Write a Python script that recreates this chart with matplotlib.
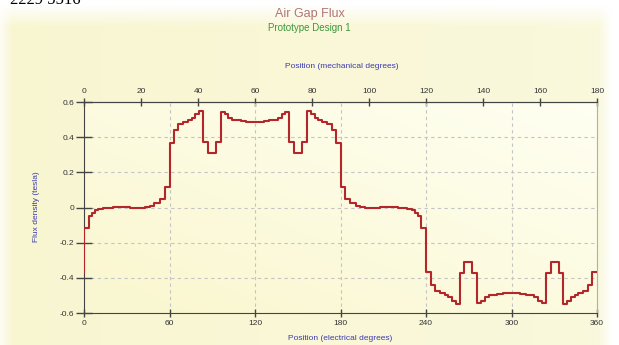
import numpy as np
import matplotlib
matplotlib.use("Agg")
import matplotlib.pyplot as plt

plt.rcParams['font.family'] = ['Liberation Sans', 'DejaVu Sans']

# step edges (electrical degrees) and flux density (tesla) held between them
edges = [0, 3.3, 5.8, 7.7, 10, 13, 16, 20, 24, 28, 32, 36, 40, 43, 46, 49, 53.5, 57,
         60, 63.4, 66.2, 69.7, 73.2, 75.6, 77.9, 80.9, 83.7, 86.8, 92.6, 95.9, 98.9,
         101.3, 104, 107, 110, 114, 117, 123, 126, 130, 133, 136, 138.7, 141.1, 144.1,
         147.4, 153.2, 156.3, 159.1, 162.1, 164.4, 166.8, 170.3, 173.8, 176.6,
         180, 183, 186.5, 191, 194, 197, 200, 204, 208, 212, 216, 220, 224, 227, 230,
         232.3, 234.2, 236.7,
         240, 243.4, 246.2, 249.7, 253.2, 255.6, 257.9, 260.9, 263.7, 266.8, 272.6,
         275.9, 278.9, 281.3, 284, 287, 290, 294, 297, 303, 306, 310, 313, 316, 318.7,
         321.1, 324.1, 327.4, 333.2, 336.3, 339.1, 342.1, 344.4, 346.8, 350.3, 353.8,
         356.6, 360]
flux = [-0.115, -0.05, -0.03, -0.015, -0.008, -0.003, 0.0, 0.003, 0.004, 0.002, -0.002,
        -0.004, -0.002, 0.002, 0.008, 0.023, 0.05, 0.114,
        0.366, 0.44, 0.475, 0.485, 0.5, 0.51, 0.53, 0.547, 0.37, 0.31, 0.37, 0.545, 0.53,
        0.51, 0.5, 0.495, 0.49, 0.487, 0.485, 0.487, 0.49, 0.495, 0.5, 0.51, 0.53, 0.545,
        0.37, 0.31, 0.37, 0.547, 0.53, 0.51, 0.5, 0.485, 0.475, 0.44, 0.366,
        0.114, 0.05, 0.023, 0.008, 0.002, -0.002, -0.004, -0.002, 0.002, 0.004, 0.003,
        0.0, -0.003, -0.008, -0.015, -0.03, -0.05, -0.115,
        -0.366, -0.44, -0.475, -0.485, -0.5, -0.51, -0.53, -0.547, -0.37, -0.31, -0.37,
        -0.545, -0.53, -0.51, -0.5, -0.495, -0.49, -0.487, -0.485, -0.487, -0.49, -0.495,
        -0.5, -0.51, -0.53, -0.545, -0.37, -0.31, -0.37, -0.547, -0.53, -0.51, -0.5,
        -0.485, -0.475, -0.44, -0.366]

elec_ticks = [0, 60, 120, 180, 240, 300, 360]
mech_ticks = [0, 20, 40, 60, 80, 100, 120, 140, 160, 180]
flux_ticks = [-0.6, -0.4, -0.2, 0, 0.2, 0.4, 0.6]
flux_labels = ['-0.6', '-0.4', '-0.2', '0', '0.2', '0.4', '0.6']

fig = plt.figure(figsize=(6.19, 3.45), dpi=100)

# pale yellow panel background, white at the top and right edge
bg = fig.add_axes([0, 0, 1, 1], zorder=-20)
bg.axis('off')
h, w = 345, 619
yy, xx = np.mgrid[0:h, 0:w]
t = np.clip((yy - 4) / 22.0, 0, 1) * np.clip((612 - xx) / 14.0, 0, 1) * np.clip((xx + 4) / 16.0, 0, 1)
t = t * (0.75 + 0.25 * np.clip(1 - xx / w, 0, 1))
img = np.zeros((h, w, 3))
img[..., 0] = 1.0 - t * (1 - 0.975)
img[..., 1] = 1.0 - t * (1 - 0.965)
img[..., 2] = 1.0 - t * (1 - 0.82)
bg.imshow(img, extent=[0, 1, 0, 1], aspect='auto', origin='upper')

ax = fig.add_axes([84 / 619, 1 - 313 / 345, 513 / 619, 211 / 345])
ax.set_facecolor('none')
g = np.linspace(0, 1, 200)
gx, gy = np.meshgrid(g, g)
s = np.clip(0.55 * (1 - gx) + 0.55 * gy, 0, 1)
face = np.zeros((200, 200, 3))
face[..., 0] = 1.0 - s * 0.02
face[..., 1] = 1.0 - s * 0.03
face[..., 2] = 0.95 - s * 0.13
ax.imshow(face, extent=[0, 1, 0, 1], transform=ax.transAxes, aspect='auto', zorder=-5)

xs = [0.0] + edges
ys = [flux[-1]] + flux + [flux[-1]]
ax.step(xs, ys, where='post', color='#b3262a', linewidth=1.5, zorder=3)

ax.set_xlim(0, 360)
ax.set_ylim(-0.6, 0.6)
ax.set_xticks(elec_ticks)
ax.set_yticks(flux_ticks)
ax.set_yticklabels(flux_labels)
ax.tick_params(axis='x', direction='inout', length=6, width=1, colors='#444444',
               labelsize=6, labelcolor='#333333', pad=2)
ax.tick_params(axis='y', direction='inout', length=12, width=1, colors='#444444',
               labelsize=6, labelcolor='#333333', pad=1)
ax.grid(True, color='#c4c4c4', linestyle=(0, (3, 3)), linewidth=0.8)
for side in ['left', 'bottom', 'top']:
    ax.spines[side].set_color('#444444')
ax.spines['right'].set_color('#b0b0b0')

top = ax.secondary_xaxis('top', functions=(lambda x: x / 2, lambda x: x * 2))
top.set_xticks(mech_ticks)
top.tick_params(direction='inout', length=6, width=1, colors='#444444',
                labelsize=6, labelcolor='#333333', pad=2)
top.spines['top'].set_color('#444444')

fig.text(10 / 619, 1.0, '2229 5516', family='Liberation Serif', fontsize=12,
         color='black', ha='left', va='center')
fig.text(0.5, 1 - 14 / 345, 'Air Gap Flux', ha='center', va='center',
         fontsize=9, color='#b07474')
fig.text(0.5, 1 - 28 / 345, 'Prototype Design 1', ha='center', va='center',
         fontsize=7, color='#3d963d')
fig.text(342 / 619, 1 - 66 / 345, 'Position (mechanical degrees)', ha='center',
         va='center', fontsize=6, color='#3b3bb0')
fig.text(340 / 619, 1 - 338 / 345, 'Position (electrical degrees)', ha='center',
         va='center', fontsize=6, color='#3b3bb0')
fig.text(37 / 619, 1 - 207 / 345, 'Flux density (tesla)', ha='center', va='center',
         rotation=90, fontsize=6, color='#3b3bb0')

fig.savefig('out.png', dpi=100)
